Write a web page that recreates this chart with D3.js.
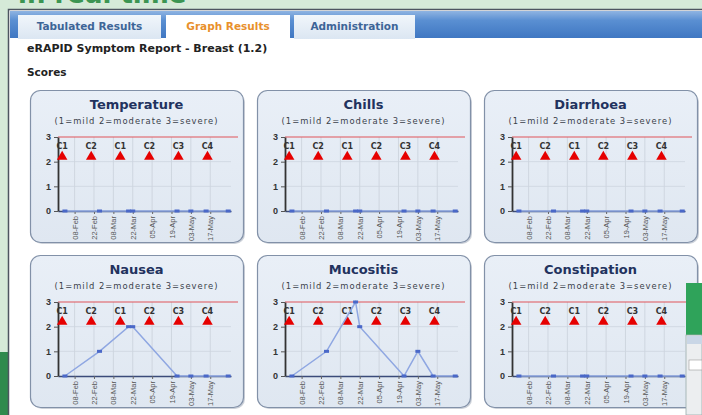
<!DOCTYPE html>
<html>
<head>
<meta charset="utf-8">
<script src="https://d3js.org/d3.v7.min.js"></script>
<style>
  body { margin: 0; background: #fff; }
  svg { display: block; font-family: "DejaVu Sans", Verdana, sans-serif; }
</style>
</head>
<body>
<div id="page"></div>
<script>
// chart values
const symptoms = ["Temperature", "Chills", "Diarrhoea", "Nausea", "Mucositis", "Constipation"];
const reportDates = ["2010-02-01", "2010-02-26", "2010-03-19", "2010-03-22", "2010-04-23", "2010-05-03", "2010-05-14", "2010-05-30"];
const temperature  = [0, 0, 0, 0, 0, 0, 0, 0];
const chills       = [0, 0, 0, 0, 0, 0, 0, 0];
const diarrhoea    = [0, 0, 0, 0, 0, 0, 0, 0];
const nausea       = [0, 1, 2, 2, 0, 0, 0, 0];
const mucositis    = [0, 1, 3, 2, 0, 1, 0, 0];
const constipation = [0, 0, 0, 0, 0, 0, 0, 0];
const cycleDates  = ["2010-01-30", "2010-02-20", "2010-03-13", "2010-04-03", "2010-04-24", "2010-05-15"];
const cycleLabels = ["C1", "C2", "C1", "C2", "C3", "C4"];
const tickDates = ["2010-02-08", "2010-02-22", "2010-03-08", "2010-03-22", "2010-04-05", "2010-04-19", "2010-05-03", "2010-05-17"];
const yTicks = [0, 1, 2, 3];
const domainDates = ["2010-01-27", "2010-06-01"];

const seriesValues = [temperature, chills, diarrhoea, nausea, mucositis, constipation];

const parse = d3.timeParse("%Y-%m-%d");
const fmt = d3.timeFormat("%d-%b");

const W = 702, H = 415;
const svg = d3.select("#page").append("svg")
    .attr("width", W)
    .attr("height", H);

const defs = svg.append("defs");
const barGrad = defs.append("linearGradient").attr("id", "bar").attr("x1", 0).attr("y1", 0).attr("x2", 0).attr("y2", 1);
barGrad.append("stop").attr("offset", "0%").attr("stop-color", "#8fb4e2");
barGrad.append("stop").attr("offset", "35%").attr("stop-color", "#5a8fd2");
barGrad.append("stop").attr("offset", "100%").attr("stop-color", "#3f77c2");
const tabGrad = defs.append("linearGradient").attr("id", "tab").attr("x1", 0).attr("y1", 0).attr("x2", 0).attr("y2", 1);
tabGrad.append("stop").attr("offset", "0%").attr("stop-color", "#f1f6fb");
tabGrad.append("stop").attr("offset", "100%").attr("stop-color", "#dbe6f2");
const boxGrad = defs.append("linearGradient").attr("id", "box").attr("x1", 0).attr("y1", 0).attr("x2", 0).attr("y2", 1);
boxGrad.append("stop").attr("offset", "0%").attr("stop-color", "#e9eff7");
boxGrad.append("stop").attr("offset", "100%").attr("stop-color", "#dfe7f1");

////////////////////////////////////////////////////////////
// page background / frame
////////////////////////////////////////////////////////////
svg.append("rect").attr("width", W).attr("height", H).attr("fill", "#d5ead8");
svg.append("text")
    .attr("x", 18).attr("y", 3)
    .attr("font-size", 26).attr("font-weight", "bold")
    .attr("fill", "#3b9552")
    .text("in real time");
svg.append("rect").attr("x", 0).attr("y", 352).attr("width", 9).attr("height", 63).attr("fill", "#2f8a4d");

svg.append("rect")
    .attr("x", 8.5).attr("y", 9.5).attr("width", 720).attr("height", 420)
    .attr("fill", "#fff").attr("stroke", "#4d5560").attr("stroke-width", 1.5);

// tab bar
svg.append("rect").attr("x", 10).attr("y", 11).attr("width", 692).attr("height", 27).attr("fill", "url(#bar)");
const tabs = [
    {label: "Tabulated Results", x0: 18, x1: 161, active: false},
    {label: "Graph Results", x0: 166, x1: 290, active: true},
    {label: "Administration", x0: 294, x1: 415, active: false}
];
const tabG = svg.append("g").selectAll("g").data(tabs).join("g");
tabG.append("rect")
    .attr("x", d => d.x0).attr("y", 15)
    .attr("width", d => d.x1 - d.x0).attr("height", 24)
    .attr("fill", d => d.active ? "#fff" : "url(#tab)");
tabG.append("text")
    .attr("x", d => (d.x0 + d.x1) / 2).attr("y", 30)
    .attr("text-anchor", "middle")
    .attr("font-size", 10.5).attr("font-weight", "bold")
    .attr("fill", d => d.active ? "#e8902c" : "#3d6597")
    .text(d => d.label);

svg.append("text")
    .attr("x", 27).attr("y", 52)
    .attr("font-size", 11).attr("font-weight", "bold").attr("fill", "#222")
    .text("eRAPID Symptom Report - Breast (1.2)");
svg.append("text")
    .attr("x", 27).attr("y", 76)
    .attr("font-size", 10.5).attr("font-weight", "bold").attr("fill", "#222")
    .text("Scores");

////////////////////////////////////////////////////////////
// small multiples
////////////////////////////////////////////////////////////
const cols = [30, 257, 484], rows = [90, 255];
const boxW = 213, boxH = 152;

const x = d3.scaleTime()
    .domain(domainDates.map(parse))
    .range([28, 201]);
const y = d3.scaleLinear()
    .domain([0, 3])
    .range([121, 47]);

const line = d3.line()
    .x(d => x(d.date))
    .y(d => y(d.value));

symptoms.forEach((name, i) => {
    const g = svg.append("g")
        .attr("transform", `translate(${cols[i % 3]},${rows[Math.floor(i / 3)]})`);

    // box with shadow
    g.append("rect")
        .attr("x", 2).attr("y", 2).attr("width", boxW).attr("height", boxH)
        .attr("rx", 10).attr("fill", "#aab3c0").attr("opacity", 0.6);
    g.append("rect")
        .attr("x", 0.5).attr("y", 0.5).attr("width", boxW).attr("height", boxH)
        .attr("rx", 10).attr("fill", "url(#box)")
        .attr("stroke", "#8291a8").attr("stroke-width", 1.2);

    g.append("text")
        .attr("x", boxW / 2).attr("y", 19)
        .attr("text-anchor", "middle")
        .attr("font-size", 13).attr("font-weight", "bold").attr("fill", "#22325e")
        .text(name);
    g.append("text")
        .attr("x", boxW / 2).attr("y", 34)
        .attr("text-anchor", "middle")
        .attr("font-size", 8.4).attr("letter-spacing", 1).attr("fill", "#3a3f4a")
        .text("(1=mild 2=moderate 3=severe)");

    // grid
    g.append("g").selectAll("line")
        .data(tickDates.map(parse))
        .join("line")
        .attr("x1", d => x(d)).attr("x2", d => x(d))
        .attr("y1", y(0)).attr("y2", y(3))
        .attr("stroke", "#c9d0da").attr("stroke-width", 0.8);
    g.append("g").selectAll("line")
        .data([1, 2])
        .join("line")
        .attr("x1", x.range()[0]).attr("x2", x.range()[1])
        .attr("y1", d => y(d)).attr("y2", d => y(d))
        .attr("stroke", "#cdd4de").attr("stroke-width", 0.8);

    // severe line
    g.append("line")
        .attr("x1", x.range()[0]).attr("x2", x.range()[1] + 7)
        .attr("y1", y(3)).attr("y2", y(3))
        .attr("stroke", "#e0555a").attr("stroke-width", 1.2);

    // axes
    const xAxis = d3.axisBottom(x).tickValues(tickDates.map(parse)).tickFormat(fmt).tickSize(3).tickSizeOuter(0);
    const xg = g.append("g")
        .attr("transform", `translate(0,${y(0)})`)
        .call(xAxis);
    xg.select(".domain").attr("stroke", "#3b4b7a").attr("stroke-width", 1.6);
    xg.selectAll(".tick line").attr("stroke", "#666");
    xg.selectAll("text")
        .attr("transform", "rotate(-90)")
        .attr("text-anchor", "end")
        .attr("x", -5).attr("y", 0).attr("dy", "0.35em")
        .attr("font-size", 7.5).attr("fill", "#555");

    const yAxis = d3.axisLeft(y).tickValues(yTicks).tickFormat(d3.format("d")).tickSize(4).tickSizeOuter(0);
    const yg = g.append("g")
        .attr("transform", `translate(${x.range()[0]},0)`)
        .call(yAxis);
    yg.select(".domain").attr("stroke", "#333").attr("stroke-width", 1.8);
    yg.selectAll(".tick line").attr("stroke", "#555");
    yg.selectAll("text").attr("font-size", 9).attr("font-weight", "bold").attr("fill", "#333").attr("x", -7);

    // cycle markers
    const cyc = cycleDates.map((d, j) => ({date: parse(d), label: cycleLabels[j]}));
    g.append("g").selectAll("path")
        .data(cyc)
        .join("path")
        .attr("d", d3.symbol(d3.symbolTriangle).size(48))
        .attr("transform", d => `translate(${x(d.date)},${y(2.2)})`)
        .attr("fill", "#e60000");
    g.append("g").selectAll("text")
        .data(cyc)
        .join("text")
        .attr("x", d => x(d.date)).attr("y", y(2.5))
        .attr("text-anchor", "middle")
        .attr("font-size", 8).attr("font-weight", "bold").attr("fill", "#333")
        .text(d => d.label);

    // series
    const data = reportDates.map((d, j) => ({date: parse(d), value: seriesValues[i][j]}));
    g.append("path")
        .datum(data)
        .attr("d", line)
        .attr("fill", "none")
        .attr("stroke", "#8fa7e2").attr("stroke-width", 1.5);
    g.append("g").selectAll("rect")
        .data(data)
        .join("rect")
        .attr("x", d => x(d.date) - 2.5).attr("y", d => y(d.value) - 1.5)
        .attr("width", 5).attr("height", 3)
        .attr("fill", "#4a68c8");
});

// overlapping window at bottom right
svg.append("rect").attr("x", 686).attr("y", 283).attr("width", 16).attr("height", 52).attr("fill", "#2fa35a");
svg.append("rect").attr("x", 686).attr("y", 335).attr("width", 16).attr("height", 80).attr("fill", "#eceef0").attr("stroke", "#9aa").attr("stroke-width", 0.8);
svg.append("rect").attr("x", 687).attr("y", 336).attr("width", 15).attr("height", 8).attr("fill", "#c9d6e6");
svg.append("rect").attr("x", 689).attr("y", 360).attr("width", 13).attr("height", 10).attr("fill", "#fff").attr("stroke", "#999").attr("stroke-width", 0.6);
</script>
</body>
</html>
